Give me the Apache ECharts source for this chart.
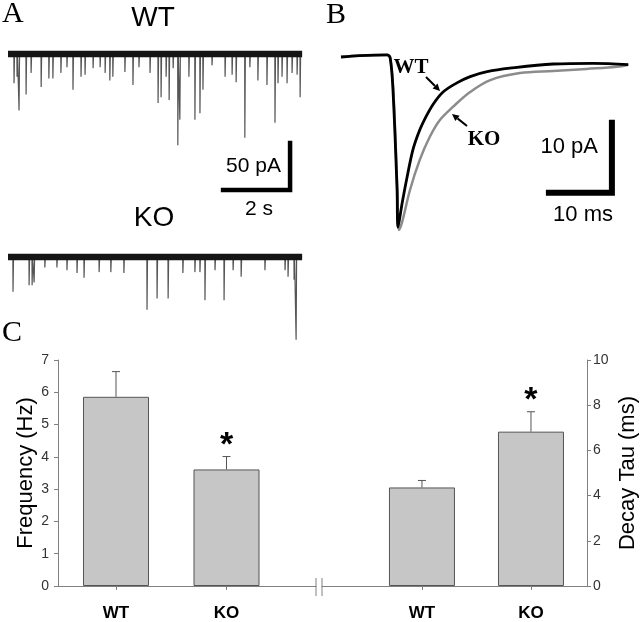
<!DOCTYPE html>
<html>
<head>
  <meta charset="utf-8">
  <title>mEPSC WT vs KO</title>
  <script src="https://cdn.jsdelivr.net/npm/echarts@6/dist/echarts.min.js"></script>
  <style>
    body { margin: 0; background: #fff; }
    #chart { width: 640px; height: 622px; }
  </style>
</head>
<body>
<div id="chart"></div>
<script>
  // A: spontaneous events, [time (s), amplitude (pA)]
  const wtEvents = [
    [0.18, -31], [0.27, -24], [0.33, -60], [0.54, -43], [0.69, -20], [0.99, -35],
    [1.22, -26], [1.34, -26], [1.58, -20], [1.76, -14], [1.94, -38], [2.18, -24],
    [2.30, -22], [2.54, -15], [2.75, -14], [2.90, -20], [3.04, -28], [3.13, -24],
    [3.49, -19], [3.73, -33], [3.91, -14], [4.24, -20], [4.48, -52], [4.57, -46],
    [4.72, -24], [4.81, -49], [4.93, -15], [5.07, -97], [5.13, -70], [5.40, -24],
    [5.58, -70], [5.73, -63], [5.82, -38], [6.09, -12], [6.48, -24], [6.69, -22],
    [6.81, -30], [7.07, -89], [7.22, -14], [7.46, -28], [7.73, -33], [7.97, -73],
    [8.06, -31], [8.18, -24], [8.33, -31], [8.48, -20], [8.63, -22], [8.72, -46]
  ];
  const koEvents = [
    [0.15, -37], [0.63, -30], [0.72, -30], [0.78, -27], [1.10, -11], [1.46, -11],
    [1.76, -14], [2.06, -17], [2.27, -22], [2.72, -16], [3.07, -16], [3.46, -17],
    [4.15, -56], [4.45, -44], [4.78, -44], [5.22, -17], [5.58, -16], [5.73, -16],
    [5.88, -46], [6.18, -14], [6.45, -46], [6.72, -14], [6.96, -21], [7.67, -14],
    [8.27, -14], [8.36, -21], [8.54, -24], [8.60, -88]
  ];
  const traceEnd = 8.78;

  // B: averaged mEPSC waveforms, [time (ms), current (pA)]
  const wtAvg = [
    [0, 0], [3, 0.2], [7.3, 0.3], [7.8, -0.1], [8.25, -4.7], [8.9, -19], [9.05, -24.3],
    [9.7, -20.9], [10.5, -17.1], [11.4, -13.3], [12.2, -11.1], [13.0, -9.4], [14.6, -6.8],
    [16.2, -5.0], [18.4, -3.7], [20.5, -2.8], [23.2, -2.1], [26.8, -1.6], [33.7, -1.0],
    [40.0, -0.9], [45.6, -1.1]
  ];
  const koAvg = [
    [0, 0], [3, 0.2], [7.3, 0.3], [7.8, -0.1], [8.3, -4.7], [8.95, -19], [9.2, -24.7],
    [9.7, -23.6], [10.95, -19], [12.5, -14.7], [14.1, -11.4], [15.7, -9], [17.8, -7.1],
    [20.5, -5], [23.7, -3.3], [28.4, -2.3], [33.7, -2], [39.0, -1.7], [43.8, -1.4], [45.6, -1.1]
  ];

  // C: group means and SEM
  const groups = ['WT', 'KO'];
  const freqMean = [5.86, 3.61];
  const freqErr = [0.78, 0.40];
  const tauMean = [4.36, 6.83];
  const tauErr = [0.31, 0.88];
  const freqSig = ['', '*'];
  const tauSig = ['', '*'];

  // scale bars
  const scaleA = { s: 2, pA: 50 };
  const scaleB = { ms: 10, pA: 10 };

  function spikeTrace(ev) {
    const pts = [[0, 0]];
    for (const [t, a] of ev) pts.push([t - 0.005, 0], [t, a], [t + 0.015, 0]);
    pts.push([traceEnd, 0]);
    return pts;
  }

  function errRender(params, api) {
    const x = api.value(0), m = api.value(1), e = api.value(2);
    const base = api.coord([x, m]);
    const top = api.coord([x, m + e]);
    const st = { stroke: '#555', lineWidth: 1 };
    const kids = [
      { type: 'line', shape: { x1: base[0], y1: base[1], x2: top[0], y2: top[1] }, style: st },
      { type: 'line', shape: { x1: top[0] - 4, y1: top[1], x2: top[0] + 4, y2: top[1] }, style: st }
    ];
    const sig = api.value(3);
    if (sig) {
      kids.push({
        type: 'text',
        style: { text: sig, x: top[0], y: top[1] - 11, align: 'center', verticalAlign: 'middle',
          font: 'bold 34px Arial', fill: '#000' }
      });
    }
    return { type: 'group', children: kids };
  }

  const grey = '#808080';
  function barX(gi, min, max) {
    return {
      gridIndex: gi, type: 'value', min: min, max: max,
      axisLine: { show: true, onZero: false, lineStyle: { color: grey, width: 1 } },
      axisTick: { show: true, customValues: [0, 1], length: 4, lineStyle: { color: grey } },
      axisLabel: { customValues: [0, 1], formatter: v => groups[Math.round(v)],
        fontFamily: 'Arial', fontWeight: 'bold', fontSize: 17, color: '#000', margin: 19 },
      splitLine: { show: false }
    };
  }
  function barY(gi, max, interval, name, pos, gap, margin) {
    return {
      gridIndex: gi, type: 'value', min: 0, max: max, interval: interval, position: pos,
      name: name, nameLocation: 'middle', nameRotate: 90, nameGap: gap,
      nameTextStyle: { fontFamily: 'Arial', fontSize: 22, color: '#000' },
      axisLine: { show: true, onZero: false, lineStyle: { color: grey, width: 1 } },
      axisTick: { show: true, length: 4, lineStyle: { color: grey } },
      axisLabel: { fontFamily: 'Arial', fontSize: 14, color: '#333', margin: margin },
      splitLine: { show: false }
    };
  }

  const hidden = (gi, min, max) => ({ gridIndex: gi, type: 'value', min: min, max: max, show: false });

  const chart = echarts.init(document.getElementById('chart'));
  const option = {
    animation: false,
    backgroundColor: '#fff',
    grid: [
      { left: 8, top: 40, width: 301.5, height: 155 },   // A WT
      { left: 8, top: 243, width: 301.5, height: 108 },  // A KO
      { left: 341, top: 43, width: 289.8, height: 196 }, // B
      { left: 58, top: 360, width: 258, height: 227 },   // C freq
      { left: 322, top: 360, width: 265, height: 227 }   // C tau
    ],
    xAxis: [
      hidden(0, 0, 9), hidden(1, 0, 9), hidden(2, 0, 46),
      barX(3, -0.525, 1.81), barX(4, -0.917, 1.514)
    ],
    yAxis: [
      hidden(0, -150, 15), hidden(1, -100, 15), hidden(2, -26, 2),
      barY(3, 7, 1, 'Frequency (Hz)', 'left', 21, 9),
      barY(4, 10, 2, 'Decay Tau (ms)', 'right', 30, 6)
    ],
    series: [
      // A traces
      { type: 'line', xAxisIndex: 0, yAxisIndex: 0, data: spikeTrace(wtEvents), showSymbol: false,
        lineStyle: { color: '#555', width: 1.2 } },
      { type: 'line', xAxisIndex: 0, yAxisIndex: 0, data: [[0, 0], [traceEnd, 0]], showSymbol: false,
        lineStyle: { color: '#151515', width: 6.5 } },
      { type: 'line', xAxisIndex: 1, yAxisIndex: 1, data: spikeTrace(koEvents), showSymbol: false,
        lineStyle: { color: '#555', width: 1.2 } },
      { type: 'line', xAxisIndex: 1, yAxisIndex: 1, data: [[0, 0], [traceEnd, 0]], showSymbol: false,
        lineStyle: { color: '#151515', width: 6.5 } },
      { type: 'line', xAxisIndex: 0, yAxisIndex: 0, showSymbol: false,
        data: [[8.42 - scaleA.s, -144.7], [8.42, -144.7], [8.42, -144.7 + scaleA.pA]],
        lineStyle: { color: '#000', width: 4.5, join: 'miter', cap: 'square' } },
      // B averaged traces
      { type: 'line', xAxisIndex: 2, yAxisIndex: 2, data: koAvg, showSymbol: false, smooth: 0.35,
        lineStyle: { color: '#8c8c8c', width: 2.5 } },
      { type: 'line', xAxisIndex: 2, yAxisIndex: 2, data: wtAvg, showSymbol: false, smooth: 0.35,
        lineStyle: { color: '#000', width: 2.8 } },
      { type: 'line', xAxisIndex: 2, yAxisIndex: 2, showSymbol: false,
        data: [[43 - scaleB.ms, -19.4], [43, -19.4], [43, -19.4 + scaleB.pA]],
        lineStyle: { color: '#000', width: 6, join: 'miter', cap: 'square' } },
      // C bars
      { type: 'bar', xAxisIndex: 3, yAxisIndex: 3, barWidth: 66,
        data: freqMean.map((v, i) => [i, v]),
        itemStyle: { color: '#c6c6c6', borderColor: '#555', borderWidth: 1 } },
      { type: 'custom', xAxisIndex: 3, yAxisIndex: 3, renderItem: errRender,
        data: freqMean.map((v, i) => [i, v, freqErr[i], freqSig[i]]), z: 5 },
      { type: 'bar', xAxisIndex: 4, yAxisIndex: 4, barWidth: 66,
        data: tauMean.map((v, i) => [i, v]),
        itemStyle: { color: '#c6c6c6', borderColor: '#555', borderWidth: 1 } },
      { type: 'custom', xAxisIndex: 4, yAxisIndex: 4, renderItem: errRender,
        data: tauMean.map((v, i) => [i, v, tauErr[i], tauSig[i]]), z: 5 }
    ]
  };
  chart.setOption(option);

  // labels, arrows and the axis break marks
  const serif = '"Liberation Serif", "Times New Roman", serif';
  const txt = (s, x, y, font, align, va) => ({
    type: 'text', style: { text: s, x: x, y: y, font: font, fill: '#000', align: align || 'center', verticalAlign: va || 'middle' }
  });
  function arrow(x1, y1, x2, y2) {
    const a = Math.atan2(y2 - y1, x2 - x1), L = 7, W = 3.5;
    const bx = x2 - L * Math.cos(a), by = y2 - L * Math.sin(a);
    return [
      { type: 'line', shape: { x1: x1, y1: y1, x2: bx, y2: by }, style: { stroke: '#000', lineWidth: 2 } },
      { type: 'polygon', shape: { points: [[x2, y2],
        [bx - W * Math.sin(a), by + W * Math.cos(a)], [bx + W * Math.sin(a), by - W * Math.cos(a)]] },
        style: { fill: '#000' } }
    ];
  }
  const bL = chart.convertToPixel({ xAxisIndex: 3, yAxisIndex: 3 }, [1.81, 0]);
  const bR = chart.convertToPixel({ xAxisIndex: 4, yAxisIndex: 4 }, [-0.917, 0]);
  const brk = p => ({ type: 'line', shape: { x1: p[0], y1: p[1] - 8, x2: p[0], y2: p[1] + 10 },
    style: { stroke: grey, lineWidth: 1 } });

  chart.setOption({
    graphic: [
      txt('A', 2, 14, '30px ' + serif, 'left'),
      txt('B', 326, 15, '30px ' + serif, 'left'),
      txt('C', 2, 333, '30px ' + serif, 'left'),
      txt('WT', 153, 18, '28px Arial'),
      txt('KO', 154, 218, '28px Arial'),
      txt('50 pA', 281, 166, '21px Arial', 'right'),
      txt('2 s', 259, 209, '21px Arial'),
      txt('10 pA', 598, 147, '22px Arial', 'right'),
      txt('10 ms', 583, 215, '22px Arial'),
      txt('WT', 411, 68, 'bold 21px ' + serif),
      txt('KO', 484, 140, 'bold 21px ' + serif),
      ...arrow(426, 77, 440, 91),
      ...arrow(467, 126, 452, 114),
      brk(bL), brk(bR)
    ]
  });
</script>
</body>
</html>
